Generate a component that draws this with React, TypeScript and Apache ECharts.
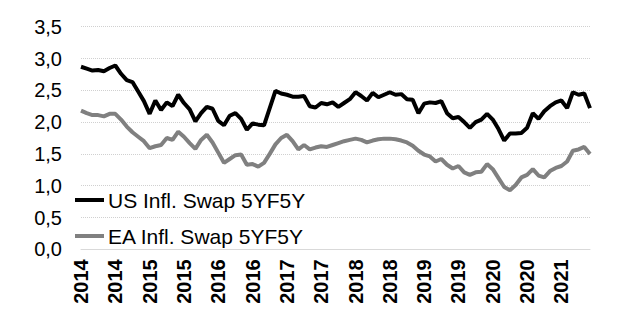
import React, { useEffect, useRef } from "react";
import * as echarts from "echarts";

const startYear = 2014;
const monthCount = 90;
const months: string[] = [];
for (let i = 0; i < monthCount; i++) {
  const y = startYear + Math.floor(i / 12);
  const m = (i % 12) + 1;
  months.push(`${y}-${m < 10 ? "0" + m : m}`);
}

const seriesNames = ["US Infl. Swap 5YF5Y", "EA Infl. Swap 5YF5Y"];

const usSwap = [
  2.87, 2.84, 2.81, 2.82, 2.8, 2.85, 2.89, 2.76, 2.66, 2.63, 2.48, 2.33,
  2.13, 2.34, 2.19, 2.31, 2.25, 2.43, 2.3, 2.2, 2.01, 2.14, 2.24, 2.21,
  2.02, 1.95, 2.1, 2.14, 2.05, 1.88, 1.98, 1.96, 1.95, 2.22, 2.49, 2.45,
  2.43, 2.4, 2.4, 2.41, 2.25, 2.23, 2.3, 2.28, 2.31, 2.24, 2.3, 2.36,
  2.47, 2.41, 2.34, 2.46, 2.39, 2.43, 2.47, 2.43, 2.44, 2.36, 2.35, 2.14,
  2.29, 2.31, 2.3, 2.33, 2.14, 2.06, 2.08, 2.0, 1.91, 2.0, 2.04, 2.13,
  2.04, 1.89, 1.71, 1.82, 1.82, 1.83, 1.91, 2.14, 2.05, 2.17, 2.25, 2.31,
  2.34, 2.22, 2.47, 2.43, 2.45, 2.22,
];

const eaSwap = [
  2.18, 2.14, 2.11, 2.11, 2.09, 2.13, 2.13, 2.04, 1.93, 1.84, 1.77, 1.7,
  1.59, 1.62, 1.64, 1.75, 1.72, 1.85, 1.77, 1.67, 1.58, 1.72, 1.8, 1.68,
  1.52, 1.36, 1.42, 1.48, 1.49, 1.33, 1.34, 1.3, 1.36, 1.5, 1.65, 1.75,
  1.8, 1.7, 1.57, 1.64, 1.57, 1.6, 1.62, 1.61, 1.64, 1.67, 1.7, 1.72,
  1.74, 1.72, 1.68, 1.71, 1.73, 1.74, 1.74, 1.73, 1.71, 1.68, 1.63, 1.55,
  1.49, 1.46, 1.38, 1.42, 1.33, 1.27, 1.31, 1.21, 1.17, 1.21, 1.22, 1.34,
  1.26, 1.12, 0.98, 0.93, 1.01, 1.13, 1.17, 1.26, 1.16, 1.13, 1.23, 1.28,
  1.31, 1.38, 1.55, 1.57, 1.61, 1.5,
];

const FONT = "'Liberation Sans', Arial, sans-serif";

export default function App() {
  const ref = useRef<HTMLDivElement>(null);
  useEffect(() => {
    document.body.style.margin = "0";
    const chart = echarts.init(ref.current!, null, { renderer: "svg" });
    chart.setOption({
      animation: false,
      backgroundColor: "#ffffff",
      textStyle: { fontFamily: FONT },
      grid: {
        left: 81,
        right: 38,
        top: 26.7,
        bottom: 85.7,
        containLabel: false,
        outerBoundsMode: "none",
      },
      legend: {
        orient: "vertical",
        left: 70,
        top: 183,
        itemWidth: 29,
        itemHeight: 4,
        itemGap: 12,
        icon: "rect",
        data: seriesNames,
        textStyle: {
          fontSize: 21,
          color: "#000",
          fontFamily: FONT,
          lineHeight: 24,
          padding: [0, 0, 0, -1],
        },
      },
      xAxis: {
        type: "category",
        data: months,
        boundaryGap: false,
        axisLine: { show: true, lineStyle: { color: "#d9d9d9", width: 1 } },
        axisTick: { show: false },
        splitLine: { show: false },
        axisLabel: {
          interval: 5,
          rotate: 90,
          margin: 10,
          fontSize: 20,
          fontWeight: "bold",
          color: "#000",
          fontFamily: FONT,
          formatter: (v: string) => v.slice(0, 4),
        },
      },
      yAxis: {
        type: "value",
        min: 0,
        max: 3.5,
        interval: 0.5,
        axisLine: { show: false },
        axisTick: { show: false },
        splitLine: {
          show: true,
          lineStyle: { color: "#d0d0d0", type: [1, 1], width: 1 },
        },
        axisLabel: {
          fontSize: 20,
          color: "#000",
          margin: 19,
          fontFamily: FONT,
          formatter: (v: number) => v.toFixed(1).replace(".", ","),
        },
      },
      series: [
        {
          name: seriesNames[0],
          type: "line",
          data: usSwap,
          symbol: "none",
          lineStyle: { color: "#000000", width: 4 },
          itemStyle: { color: "#000000" },
          z: 3,
        },
        {
          name: seriesNames[1],
          type: "line",
          data: eaSwap,
          symbol: "none",
          lineStyle: { color: "#808080", width: 4 },
          itemStyle: { color: "#808080" },
          z: 2,
        },
      ],
    });
    return () => chart.dispose();
  }, []);
  return (
    <div
      ref={ref}
      style={{ position: "fixed", left: 0, top: 0, width: 628, height: 335 }}
    />
  );
}
